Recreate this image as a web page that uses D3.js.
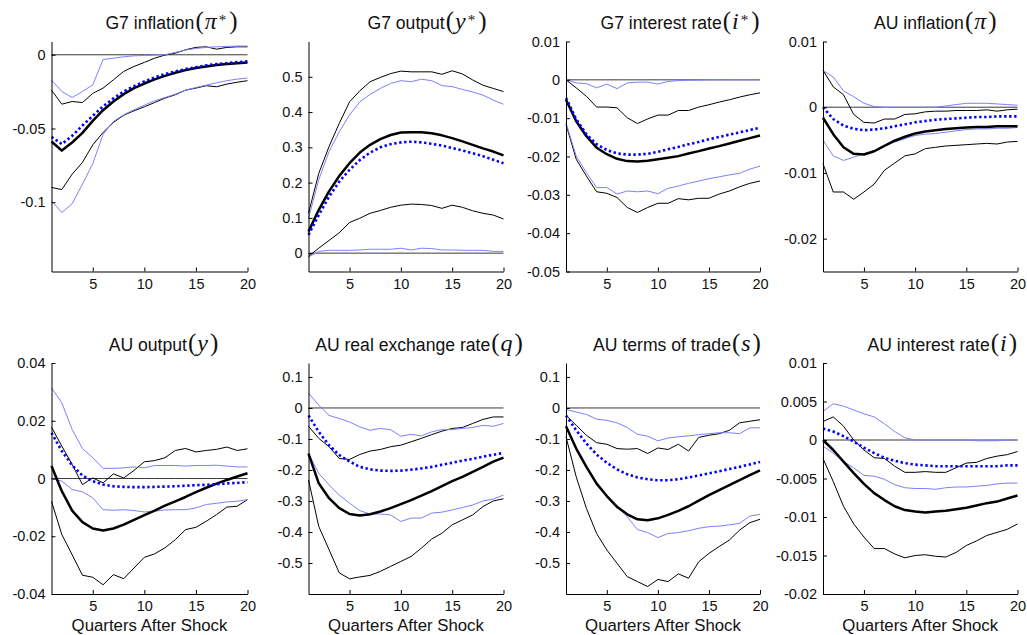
<!DOCTYPE html>
<html>
<head>
<meta charset="utf-8">
<script src="https://cdn.jsdelivr.net/npm/d3@7"></script>
<style>
  html, body { margin: 0; padding: 0; background: #fff; }
  svg { display: block; }
  .tick text { font-family: "Liberation Sans", Arial, sans-serif; font-size: 14.5px; fill: #111; }
  .domain, .tick line { stroke: #000; stroke-width: 1; }
</style>
</head>
<body>
<svg id="chart" width="1027" height="635"></svg>
<script>
// Impulse responses over 20 quarters: posterior median (thick black) with bands (thin black),
// and the alternative model's median (dotted blue) with its bands (light blue).
const quarters = d3.range(1, 21);
const xTicks = [5, 10, 15, 20];

// G7 inflation (pi*)
const piStarMed   = [-0.0588,-0.0650,-0.0595,-0.0530,-0.0448,-0.0376,-0.0317,-0.0267,-0.0226,-0.0195,-0.0167,-0.0143,-0.0122,-0.0104,-0.0090,-0.0079,-0.0070,-0.0063,-0.0057,-0.0052];
const piStarUp    = [-0.0240,-0.0335,-0.0317,-0.0324,-0.0262,-0.0226,-0.0170,-0.0113,-0.0079,-0.0052,-0.0023,-0.0002,0.0011,0.0034,0.0050,0.0054,0.0038,0.0050,0.0054,0.0054];
const piStarLo    = [-0.0900,-0.0914,-0.0810,-0.0730,-0.0611,-0.0527,-0.0459,-0.0410,-0.0380,-0.0353,-0.0324,-0.0294,-0.0271,-0.0240,-0.0226,-0.0210,-0.0217,-0.0199,-0.0186,-0.0176];
const piStarAlt   = [-0.0557,-0.0606,-0.0550,-0.0480,-0.0414,-0.0350,-0.0296,-0.0249,-0.0213,-0.0181,-0.0154,-0.0131,-0.0113,-0.0097,-0.0084,-0.0072,-0.0063,-0.0057,-0.0050,-0.0045];
const piStarAltUp = [-0.0172,-0.0249,-0.0290,-0.0249,-0.0204,-0.0032,-0.0023,-0.0014,-0.0007,-0.0005,-0.0002,0.0000,0.0016,0.0032,0.0043,0.0050,0.0054,0.0057,0.0059,0.0059];
const piStarAltLo = [-0.0990,-0.1070,-0.1010,-0.0878,-0.0738,-0.0540,-0.0452,-0.0407,-0.0373,-0.0342,-0.0312,-0.0290,-0.0267,-0.0240,-0.0222,-0.0206,-0.0190,-0.0176,-0.0165,-0.0158];

// G7 output (y*)
const yStarMed   = [0.061,0.123,0.175,0.219,0.255,0.285,0.307,0.323,0.335,0.342,0.343,0.343,0.340,0.334,0.326,0.317,0.307,0.297,0.288,0.277];
const yStarUp    = [0.113,0.226,0.302,0.368,0.429,0.460,0.486,0.498,0.509,0.516,0.514,0.514,0.514,0.507,0.517,0.508,0.491,0.476,0.467,0.458];
const yStarLo    = [-0.009,0.014,0.036,0.058,0.087,0.099,0.113,0.121,0.130,0.136,0.139,0.138,0.135,0.127,0.136,0.130,0.120,0.113,0.108,0.097];
const yStarAlt   = [0.052,0.108,0.160,0.203,0.236,0.264,0.285,0.300,0.309,0.314,0.316,0.314,0.310,0.305,0.298,0.291,0.283,0.275,0.265,0.255];
const yStarAltUp = [0.099,0.208,0.288,0.344,0.392,0.429,0.450,0.467,0.481,0.489,0.486,0.493,0.489,0.475,0.472,0.464,0.457,0.448,0.434,0.422];
const yStarAltLo = [-0.011,0.005,0.008,0.008,0.008,0.009,0.011,0.011,0.011,0.014,0.009,0.014,0.013,0.009,0.009,0.008,0.008,0.008,0.005,0.005];

// G7 interest rate (i*)
const iStarMed   = [-0.0052,-0.0108,-0.0147,-0.0177,-0.0194,-0.0206,-0.0212,-0.0213,-0.0211,-0.0207,-0.0203,-0.0199,-0.0192,-0.0186,-0.0179,-0.0173,-0.0166,-0.0159,-0.0152,-0.0145];
const iStarUp    = [0.0000,-0.0021,-0.0043,-0.0071,-0.0071,-0.0073,-0.0099,-0.0114,-0.0102,-0.0092,-0.0092,-0.0080,-0.0080,-0.0071,-0.0065,-0.0058,-0.0052,-0.0045,-0.0039,-0.0034];
const iStarLo    = [-0.0116,-0.0207,-0.0251,-0.0292,-0.0296,-0.0307,-0.0333,-0.0346,-0.0333,-0.0322,-0.0322,-0.0310,-0.0313,-0.0309,-0.0309,-0.0298,-0.0290,-0.0279,-0.0270,-0.0264];
const iStarAlt   = [-0.0047,-0.0103,-0.0142,-0.0168,-0.0183,-0.0192,-0.0195,-0.0195,-0.0193,-0.0188,-0.0181,-0.0175,-0.0168,-0.0162,-0.0155,-0.0149,-0.0143,-0.0137,-0.0131,-0.0125];
const iStarAltUp = [0.0000,-0.0008,-0.0010,-0.0021,-0.0011,-0.0023,-0.0008,-0.0006,-0.0006,-0.0011,-0.0004,-0.0002,-0.0001,-0.0001,0.0000,0.0000,0.0000,0.0000,0.0000,0.0000];
const iStarAltLo = [-0.0112,-0.0199,-0.0242,-0.0281,-0.0281,-0.0298,-0.0290,-0.0292,-0.0290,-0.0297,-0.0283,-0.0277,-0.0270,-0.0264,-0.0258,-0.0253,-0.0248,-0.0244,-0.0233,-0.0225];

// AU inflation (pi)
const piMed   = [-0.0016,-0.0041,-0.0061,-0.0071,-0.0072,-0.0067,-0.0059,-0.0051,-0.0045,-0.0040,-0.0037,-0.0035,-0.0033,-0.0032,-0.0031,-0.0030,-0.0030,-0.0029,-0.0029,-0.0029];
const piUp    = [0.0056,0.0031,0.0019,-0.0011,-0.0023,-0.0024,-0.0018,-0.0018,-0.0011,-0.0010,-0.0007,-0.0006,-0.0006,-0.0005,-0.0005,-0.0005,-0.0004,-0.0006,-0.0004,-0.0003];
const piLo    = [-0.0086,-0.0129,-0.0129,-0.0140,-0.0129,-0.0117,-0.0096,-0.0085,-0.0074,-0.0071,-0.0063,-0.0061,-0.0059,-0.0058,-0.0057,-0.0056,-0.0055,-0.0056,-0.0053,-0.0052];
const piAlt   = [0.0000,-0.0018,-0.0028,-0.0033,-0.0035,-0.0034,-0.0032,-0.0029,-0.0026,-0.0023,-0.0021,-0.0019,-0.0018,-0.0017,-0.0016,-0.0015,-0.0015,-0.0014,-0.0014,-0.0014];
const piAltUp = [0.0056,0.0046,0.0025,0.0016,0.0006,0.0001,0.0000,0.0000,0.0000,0.0000,0.0000,0.0000,0.0002,0.0004,0.0006,0.0006,0.0006,0.0005,0.0004,0.0003];
const piAltLo = [-0.0050,-0.0074,-0.0081,-0.0076,-0.0071,-0.0066,-0.0059,-0.0053,-0.0048,-0.0043,-0.0041,-0.0040,-0.0038,-0.0036,-0.0034,-0.0033,-0.0033,-0.0032,-0.0032,-0.0031];

// AU output (y)
const yMed   = [0.0043,-0.0044,-0.0111,-0.0151,-0.0173,-0.0180,-0.0173,-0.0160,-0.0143,-0.0127,-0.0111,-0.0094,-0.0079,-0.0064,-0.0047,-0.0032,-0.0018,-0.0005,0.0007,0.0018];
const yUp    = [0.0178,0.0112,0.0049,-0.0021,0.0002,-0.0015,0.0016,0.0002,0.0028,0.0058,0.0062,0.0072,0.0097,0.0104,0.0092,0.0097,0.0101,0.0109,0.0097,0.0103];
const yLo    = [-0.0079,-0.0194,-0.0264,-0.0335,-0.0342,-0.0368,-0.0333,-0.0347,-0.0310,-0.0273,-0.0261,-0.0240,-0.0212,-0.0177,-0.0169,-0.0148,-0.0125,-0.0099,-0.0096,-0.0073];
const yAlt   = [0.0158,0.0095,0.0046,0.0010,-0.0009,-0.0021,-0.0027,-0.0029,-0.0030,-0.0030,-0.0029,-0.0028,-0.0027,-0.0025,-0.0023,-0.0022,-0.0020,-0.0017,-0.0015,-0.0013];
const yAltUp = [0.0314,0.0262,0.0170,0.0104,0.0072,0.0035,0.0035,0.0037,0.0040,0.0037,0.0045,0.0045,0.0045,0.0043,0.0045,0.0045,0.0046,0.0043,0.0040,0.0040];
const yAltLo = [0.0000,-0.0009,-0.0038,-0.0046,-0.0067,-0.0108,-0.0110,-0.0108,-0.0111,-0.0116,-0.0113,-0.0109,-0.0108,-0.0108,-0.0102,-0.0090,-0.0086,-0.0081,-0.0079,-0.0073];

// AU real exchange rate (q)
const qMed   = [-0.147,-0.243,-0.291,-0.323,-0.342,-0.347,-0.343,-0.334,-0.323,-0.310,-0.297,-0.283,-0.268,-0.252,-0.236,-0.222,-0.206,-0.190,-0.173,-0.160];
const qUp    = [-0.059,-0.098,-0.125,-0.163,-0.166,-0.150,-0.139,-0.134,-0.125,-0.120,-0.109,-0.098,-0.086,-0.075,-0.066,-0.063,-0.050,-0.037,-0.029,-0.029];
const qLo    = [-0.232,-0.382,-0.457,-0.532,-0.551,-0.545,-0.540,-0.527,-0.511,-0.495,-0.479,-0.452,-0.423,-0.404,-0.377,-0.361,-0.345,-0.318,-0.300,-0.293];
const qAlt   = [-0.024,-0.077,-0.120,-0.152,-0.173,-0.190,-0.198,-0.202,-0.203,-0.202,-0.199,-0.195,-0.190,-0.183,-0.177,-0.170,-0.164,-0.157,-0.151,-0.145];
const qAltUp = [0.048,0.009,-0.024,-0.034,-0.045,-0.061,-0.072,-0.066,-0.070,-0.091,-0.085,-0.090,-0.077,-0.070,-0.070,-0.066,-0.063,-0.056,-0.059,-0.050];
const qAltLo = [-0.147,-0.211,-0.248,-0.281,-0.307,-0.331,-0.342,-0.342,-0.345,-0.366,-0.355,-0.355,-0.339,-0.336,-0.329,-0.321,-0.313,-0.300,-0.294,-0.281];

// AU terms of trade (s)
const sMed   = [-0.059,-0.131,-0.190,-0.244,-0.284,-0.319,-0.343,-0.359,-0.362,-0.356,-0.345,-0.332,-0.317,-0.299,-0.281,-0.265,-0.249,-0.233,-0.217,-0.201];
const sUp    = [-0.024,-0.056,-0.088,-0.112,-0.117,-0.131,-0.133,-0.131,-0.147,-0.129,-0.134,-0.117,-0.139,-0.095,-0.088,-0.083,-0.072,-0.048,-0.043,-0.038];
const sLo    = [-0.093,-0.222,-0.324,-0.405,-0.458,-0.501,-0.544,-0.560,-0.576,-0.553,-0.560,-0.535,-0.549,-0.496,-0.469,-0.447,-0.426,-0.394,-0.370,-0.359];
const sAlt   = [-0.024,-0.072,-0.115,-0.150,-0.177,-0.198,-0.214,-0.224,-0.230,-0.233,-0.233,-0.230,-0.224,-0.218,-0.211,-0.204,-0.197,-0.190,-0.182,-0.174];
const sAltUp = [-0.005,-0.013,-0.021,-0.036,-0.040,-0.048,-0.063,-0.085,-0.091,-0.106,-0.097,-0.093,-0.090,-0.086,-0.083,-0.080,-0.080,-0.083,-0.064,-0.064];
const sAltLo = [-0.059,-0.131,-0.190,-0.244,-0.284,-0.317,-0.351,-0.392,-0.402,-0.418,-0.405,-0.402,-0.396,-0.388,-0.383,-0.381,-0.377,-0.372,-0.349,-0.343];

// AU interest rate (i)
const iMed   = [0.0000,-0.0013,-0.0028,-0.0043,-0.0057,-0.0069,-0.0078,-0.0086,-0.0091,-0.0093,-0.0094,-0.0093,-0.0092,-0.0090,-0.0088,-0.0085,-0.0082,-0.0080,-0.0076,-0.0072];
const iUp    = [0.0024,0.0030,0.0018,0.0000,-0.0013,-0.0023,-0.0024,-0.0034,-0.0042,-0.0042,-0.0041,-0.0042,-0.0042,-0.0036,-0.0030,-0.0029,-0.0024,-0.0021,-0.0019,-0.0015];
const iLo    = [-0.0024,-0.0054,-0.0086,-0.0109,-0.0126,-0.0141,-0.0141,-0.0148,-0.0153,-0.0150,-0.0149,-0.0151,-0.0152,-0.0146,-0.0137,-0.0131,-0.0124,-0.0120,-0.0116,-0.0109];
const iAlt   = [0.0015,0.0011,0.0005,-0.0002,-0.0010,-0.0017,-0.0023,-0.0027,-0.0030,-0.0032,-0.0033,-0.0034,-0.0034,-0.0034,-0.0034,-0.0034,-0.0034,-0.0034,-0.0033,-0.0033];
const iAltUp = [0.0037,0.0047,0.0044,0.0039,0.0034,0.0030,0.0021,0.0011,0.0003,0.0000,0.0000,0.0000,0.0000,0.0000,0.0000,-0.0001,-0.0001,-0.0001,0.0000,0.0000];
const iAltLo = [-0.0008,-0.0017,-0.0028,-0.0036,-0.0046,-0.0047,-0.0051,-0.0058,-0.0062,-0.0063,-0.0063,-0.0064,-0.0062,-0.0061,-0.0061,-0.0060,-0.0059,-0.0057,-0.0056,-0.0056];

// Panel titles: plain label plus the variable symbol (and optional superscript)
const titleText = ["G7 inflation", "G7 output", "G7 interest rate", "AU inflation",
                   "AU output", "AU real exchange rate", "AU terms of trade", "AU interest rate"];
const titleSym  = ["π", "y", "i", "π", "y", "q", "s", "i"];
const titleSup  = ["*", "*", "*", "", "", "", "", ""];

// Y-axis ticks and their printed labels for each panel
const yTickVals = [
  [0, -0.05, -0.1],
  [0, 0.1, 0.2, 0.3, 0.4, 0.5],
  [0.01, 0, -0.01, -0.02, -0.03, -0.04, -0.05],
  [0.01, 0, -0.01, -0.02],
  [0.04, 0.02, 0, -0.02, -0.04],
  [0.1, 0, -0.1, -0.2, -0.3, -0.4, -0.5],
  [0.1, 0, -0.1, -0.2, -0.3, -0.4, -0.5],
  [0.01, 0.005, 0, -0.005, -0.01, -0.015, -0.02]
];
const yTickLabels = [
  ["0", "-0.05", "-0.1"],
  ["0", "0.1", "0.2", "0.3", "0.4", "0.5"],
  ["0.01", "0", "-0.01", "-0.02", "-0.03", "-0.04", "-0.05"],
  ["0.01", "0", "-0.01", "-0.02"],
  ["0.04", "0.02", "0", "-0.02", "-0.04"],
  ["0.1", "0", "-0.1", "-0.2", "-0.3", "-0.4", "-0.5"],
  ["0.1", "0", "-0.1", "-0.2", "-0.3", "-0.4", "-0.5"],
  ["0.01", "0.005", "0", "-0.005", "-0.01", "-0.015", "-0.02"]
];
// Y-axis limits
const yLimits = [
  [-0.147, 0.009], [-0.052, 0.6], [-0.05, 0.01], [-0.025, 0.01],
  [-0.04, 0.04], [-0.6, 0.145], [-0.6, 0.145], [-0.02, 0.01]
];

const xLabel = "Quarters After Shock";

const seriesByPanel = [
  [piStarMed, piStarUp, piStarLo, piStarAlt, piStarAltUp, piStarAltLo],
  [yStarMed, yStarUp, yStarLo, yStarAlt, yStarAltUp, yStarAltLo],
  [iStarMed, iStarUp, iStarLo, iStarAlt, iStarAltUp, iStarAltLo],
  [piMed, piUp, piLo, piAlt, piAltUp, piAltLo],
  [yMed, yUp, yLo, yAlt, yAltUp, yAltLo],
  [qMed, qUp, qLo, qAlt, qAltUp, qAltLo],
  [sMed, sUp, sLo, sAlt, sAltUp, sAltLo],
  [iMed, iUp, iLo, iAlt, iAltUp, iAltLo]
];

// ---- layout ----
const colLeft  = [51.5, 308.5, 566, 823];
const colRight = [247.5, 503.5, 760, 1017.5];
const rowTop    = [41.5, 363];
const rowBottom = [271.5, 594];
const titleShift = [22, 21, 17, 15, 14, 13, 14, 22];

const svg = d3.select("#chart");
const sans = "'Liberation Sans', Arial, sans-serif";
const serif = "'Liberation Serif', 'Times New Roman', serif";

seriesByPanel.forEach((series, p) => {
  const col = p % 4, row = Math.floor(p / 4);
  const x = d3.scaleLinear().domain([1, 20]).range([colLeft[col], colRight[col]]);
  const y = d3.scaleLinear().domain(yLimits[p]).range([rowBottom[row], rowTop[row]]);
  const g = svg.append("g");

  const line = d3.line().x((d, i) => x(quarters[i])).y(d => y(d));
  const [med, up, lo, alt, altUp, altLo] = series;

  // zero reference line
  g.append("path").datum(quarters.map(() => 0)).attr("d", line)
    .attr("fill", "none").attr("stroke", "#222").attr("stroke-width", 0.9);

  // bands
  [up, lo].forEach(s => g.append("path").datum(s).attr("d", line)
    .attr("fill", "none").attr("stroke", "#000").attr("stroke-width", 1));
  [altUp, altLo].forEach(s => g.append("path").datum(s).attr("d", line)
    .attr("fill", "none").attr("stroke", "#7f7fff").attr("stroke-width", 1));

  // medians
  g.append("path").datum(med).attr("d", line)
    .attr("fill", "none").attr("stroke", "#000").attr("stroke-width", 2.5)
    .attr("stroke-linejoin", "round");
  g.append("path").datum(alt).attr("d", line)
    .attr("fill", "none").attr("stroke", "#0000ff").attr("stroke-width", 2.6)
    .attr("stroke-dasharray", "2.4,2.6");

  // axes (inward ticks, no box)
  const yAxis = d3.axisLeft(y).tickValues(yTickVals[p])
    .tickFormat((d, i) => yTickLabels[p][i]).tickSizeInner(-4).tickSizeOuter(0).tickPadding(6);
  g.append("g").attr("transform", `translate(${colLeft[col]},0)`).call(yAxis);

  const xAxis = d3.axisBottom(x).tickValues(xTicks).tickFormat(d3.format("d"))
    .tickSizeInner(-4).tickSizeOuter(0).tickPadding(7);
  g.append("g").attr("transform", `translate(0,${rowBottom[row]})`).call(xAxis);

  // x label on bottom row
  if (row === 1) {
    g.append("text")
      .attr("x", (colLeft[col] + colRight[col]) / 2)
      .attr("y", 631)
      .attr("text-anchor", "middle")
      .attr("font-family", sans).attr("font-size", 16.8).attr("fill", "#111")
      .text(xLabel);
  }

  // title: label, then the symbol in parentheses set in a serif math style
  const t = g.append("text")
    .attr("x", (colLeft[col] + colRight[col]) / 2 + titleShift[p])
    .attr("y", rowTop[row] - 12.5)
    .attr("text-anchor", "middle").attr("fill", "#111");
  t.append("tspan").attr("font-family", sans).attr("font-size", 17.6).text(titleText[p]);
  t.append("tspan").attr("font-family", serif).attr("font-size", 25).attr("dx", 1).text("(");
  t.append("tspan").attr("font-family", serif).attr("font-style", "italic").attr("font-size", 24)
    .attr("dx", 1).text(titleSym[p]);
  if (titleSup[p]) {
    t.append("tspan").attr("font-family", serif).attr("font-size", 15).attr("dy", -4).attr("dx", 2).text(titleSup[p]);
    t.append("tspan").attr("font-family", serif).attr("font-size", 25).attr("dy", 4).attr("dx", 3).text(")");
  } else {
    t.append("tspan").attr("font-family", serif).attr("font-size", 25).attr("dx", 2).text(")");
  }
});
</script>
</body>
</html>
